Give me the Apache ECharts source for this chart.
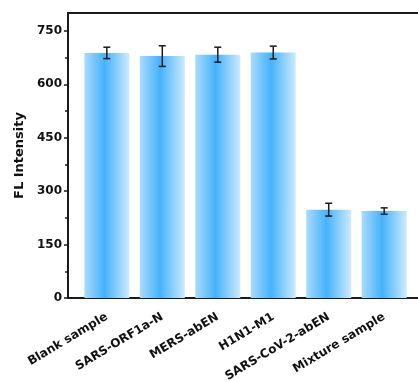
<!DOCTYPE html>
<html>
<head>
<meta charset="utf-8">
<script src="https://cdn.jsdelivr.net/npm/echarts@6/dist/echarts.min.js"></script>
<style>html,body{margin:0;padding:0;background:#fff;}#c{width:418px;height:382px;}</style>
</head>
<body>
<div id="c"></div>
<script>
const categories = ['Blank sample', 'SARS-ORF1a-N', 'MERS-abEN', 'H1N1-M1', 'SARS-CoV-2-abEN', 'Mixture sample'];
const positions = [1, 2, 3, 4, 5, 6];
const values = [688, 679, 683, 689, 248, 244];
const errors = [16, 29, 21, 18, 18, 9];
const majorTicks = [0, 150, 300, 450, 600, 750];
const minorTicks = [75, 225, 375, 525, 675];

const font = 'DejaVu Sans';
const chart = echarts.init(document.getElementById('c'), null, {renderer: 'canvas'});
const barData = positions.map((p, i) => [p, values[i]]);
const errData = positions.map((p, i) => [p, values[i] - errors[i], values[i] + errors[i]]);

chart.setOption({
  animation: false,
  backgroundColor: '#fff',
  grid: {left: 68, right: -5, top: 13, bottom: 84, outerBoundsMode: 'none', containLabel: false,
         show: true, borderColor: '#1a1a1a', borderWidth: 2, backgroundColor: 'transparent'},
  xAxis: {
    type: 'value', min: 0.3, max: 6.7,
    axisLine: {show: true, lineStyle: {color: '#1a1a1a', width: 2}},
    axisTick: {show: false},
    splitLine: {show: false},
    axisLabel: {
      customValues: positions,
      formatter: v => categories[Math.round(v) - 1],
      rotate: 31, margin: 18,
      fontFamily: font, fontWeight: 'bold', fontSize: 12, color: '#111'
    }
  },
  yAxis: [{
    type: 'value', min: 0, max: 800, position: 'left',
    name: 'FL Intensity', nameLocation: 'middle', nameGap: 40,
    nameTextStyle: {fontFamily: font, fontWeight: 'bold', fontSize: 13, color: '#111'},
    axisLine: {show: true, lineStyle: {color: '#1a1a1a', width: 2}},
    axisTick: {show: true, customValues: majorTicks, length: 4, lineStyle: {color: '#1a1a1a', width: 1.5}},
    axisLabel: {customValues: majorTicks, margin: 6, fontFamily: font, fontWeight: 'bold', fontSize: 12, color: '#111'},
    splitLine: {show: false}
  }, {
    type: 'value', min: 0, max: 800, position: 'left',
    axisLine: {show: false},
    axisTick: {show: true, customValues: minorTicks, length: 3, lineStyle: {color: '#1a1a1a', width: 1.5}},
    axisLabel: {show: false},
    splitLine: {show: false}
  }],
  series: [{
    type: 'bar',
    data: barData,
    barWidth: 45,
    itemStyle: {
      color: new echarts.graphic.LinearGradient(0, 0, 1, 0, [
        {offset: 0, color: '#aadbfc'},
        {offset: 0.45, color: '#45b2fb'},
        {offset: 1, color: '#cdeafe'}
      ])
    }
  }, {
    type: 'custom',
    data: errData,
    encode: {x: 0, y: [1, 2]},
    z: 10,
    renderItem: function (params, api) {
      const x = api.value(0);
      const lo = api.coord([x, api.value(1)]);
      const hi = api.coord([x, api.value(2)]);
      const cap = 3.5;
      const style = {stroke: '#1a1a1a', lineWidth: 1.5};
      return {type: 'group', children: [
        {type: 'line', shape: {x1: lo[0], y1: lo[1], x2: hi[0], y2: hi[1]}, style: style},
        {type: 'line', shape: {x1: lo[0] - cap, y1: lo[1], x2: lo[0] + cap, y2: lo[1]}, style: style},
        {type: 'line', shape: {x1: hi[0] - cap, y1: hi[1], x2: hi[0] + cap, y2: hi[1]}, style: style}
      ]};
    }
  }]
});
</script>
</body>
</html>
